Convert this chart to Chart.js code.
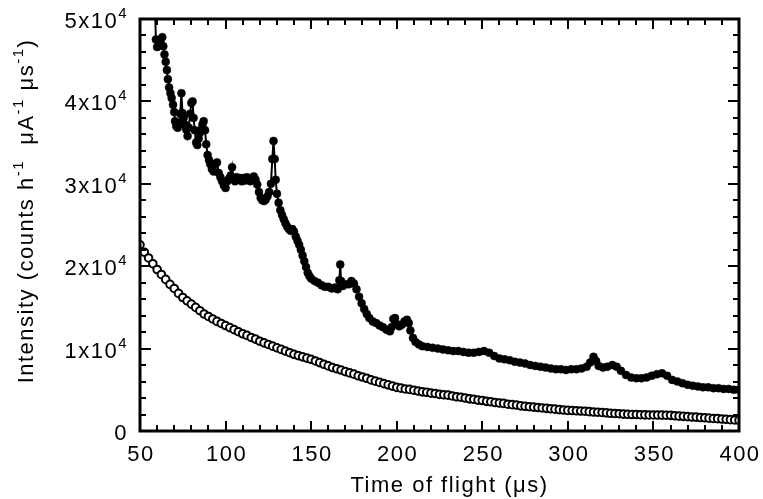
<!DOCTYPE html>
<html>
<head>
<meta charset="utf-8">
<script src="https://cdn.jsdelivr.net/npm/chart.js@4/dist/chart.umd.min.js"></script>
<style>
  html,body{margin:0;padding:0;background:#fff}
  canvas{display:block}
</style>
</head>
<body>
<canvas id="tof" width="763" height="499"></canvas>
<script>
// ticks
const xTicks = [50,100,150,200,250,300,350,400];
const yTicks = [0,10000,20000,30000,40000,50000];
const yTickBase = ['0','1x10','2x10','3x10','4x10','5x10'];
const yTickExp  = ['','4','4','4','4','4'];

// sample (filled circles)
const tofA = [58.5,59.3,60.0,61.0,62.0,63.0,63.6,64.3,65.0,65.7,66.3,67.0,67.8,68.5,69.3,70.0,70.5,71.2,72.0,72.8,
  73.5,74.2,74.8,75.5,76.2,77.0,77.8,78.5,79.3,80.0,80.7,81.3,82.0,82.8,83.5,84.3,85.0,85.8,86.5,87.2,
  88.0,88.7,89.5,90.3,91.0,92.0,93.0,94.0,95.0,96.0,97.0,98.0,99.0,100.0,101.0,102.0,103.0,103.8,104.5,105.5,
  106.5,107.5,108.5,109.5,110.5,111.5,112.5,113.5,114.5,115.5,116.5,117.5,118.5,119.5,120.5,121.5,122.5,123.5,124.5,125.5,
  126.5,127.3,128.0,128.7,129.3,130.0,131.0,132.0,133.0,134.0,135.0,136.0,137.0,138.0,139.0,140.0,141.0,142.0,143.0,144.0,
  145.0,146.0,147.0,148.0,149.0,150.0,152.0,154.0,156.0,158.0,160.0,162.0,164.0,165.5,166.5,167.0,167.5,168.5,170.0,172.0,
  173.5,175.0,176.5,178.0,179.5,181.0,182.5,184.0,186.0,188.0,190.0,192.0,194.0,196.0,197.0,198.0,199.0,200.0,201.5,203.0,
  204.5,206.0,207.0,208.0,209.5,211.0,213.0,215.0,218.0,221.0,224.0,227.0,230.0,233.0,236.0,239.0,242.0,245.0,248.0,251.0,
  254.0,257.0,260.0,263.0,266.0,269.0,272.0,275.0,278.0,281.0,284.0,287.0,290.0,293.0,296.0,299.0,302.0,305.0,308.0,311.0,
  313.0,315.0,316.5,318.0,320.5,323.0,326.0,328.5,331.0,334.0,337.0,340.0,343.0,346.0,349.0,352.0,355.0,358.0,361.0,364.0,
  367.0,370.0,373.0,376.0,379.0,382.0,385.0,388.0,391.0,394.0,397.0,400.0];
const intA = [53000,47500,46600,46800,47400,47800,46700,45700,44800,43800,42700,41700,41000,40400,39600,38700,37600,37000,36800,37300,
  38500,41000,38600,38000,37200,36600,35800,36800,38500,39800,40000,38000,36500,35000,34700,35500,36200,36600,37200,37600,
  36500,34800,33500,32900,32400,31800,31500,32400,32600,31300,30800,30300,29800,29500,30300,30600,31000,32000,30600,30300,
  30800,30500,30700,30300,30700,30400,30800,30500,30300,30600,30900,30500,29900,29000,28300,28000,27900,28100,28500,29000,
  30000,33000,35200,33000,30500,28800,27700,26800,26200,25700,25200,24800,24500,24300,24500,24200,23600,23100,22600,22000,
  21300,20600,19900,19200,18800,18500,18200,18000,17700,17500,17500,17300,17400,17200,18300,20200,18200,17600,17800,17800,
  18200,17900,17200,16300,15500,14800,14200,13700,13300,13100,12800,12600,12300,12100,12600,13600,13700,13000,12700,12900,
  13300,13500,13100,12200,11300,10800,10500,10300,10200,10100,10000,9900,9800,9700,9700,9600,9500,9500,9600,9700,
  9500,9100,8800,8700,8600,8400,8300,8200,8000,7900,7800,7700,7600,7500,7500,7400,7500,7500,7600,7800,
  8300,9000,8500,7900,7700,7800,8000,7800,7300,6800,6500,6400,6400,6500,6700,6900,7000,6700,6200,6000,
  5800,5600,5500,5400,5300,5300,5200,5200,5100,5100,5000,5000];

// background (open circles)
const tofB = [50,52.5,55,57.5,60,62.5,65,67.5,70,72.5,75,77.5,80,82.5,85,87.5,90,92.5,95,97.5,
  100,102.5,105,107.5,110,112.5,115,117.5,120,122.5,125,127.5,130,132.5,135,137.5,140,142.5,145,147.5,
  150,152.5,155,157.5,160,162.5,165,167.5,170,172.5,175,177.5,180,182.5,185,187.5,190,192.5,195,197.5,
  200,202.5,205,207.5,210,212.5,215,217.5,220,222.5,225,227.5,230,232.5,235,237.5,240,242.5,245,247.5,
  250,252.5,255,257.5,260,262.5,265,267.5,270,272.5,275,277.5,280,282.5,285,287.5,290,292.5,295,297.5,
  300,302.5,305,307.5,310,312.5,315,317.5,320,322.5,325,327.5,330,332.5,335,337.5,340,342.5,345,347.5,
  350,352.5,355,357.5,360,362.5,365,367.5,370,372.5,375,377.5,380,382.5,385,387.5,390,392.5,395,397.5,400];
const intB = [22600,21700,21000,20300,19600,19000,18400,17800,17300,16700,16200,15800,15400,15000,14600,14200,13900,13600,13300,13050,
  12800,12550,12300,12050,11800,11600,11350,11150,10900,10700,10500,10300,10100,9900,9700,9500,9300,9150,9000,8850,
  8700,8500,8300,8100,7900,7700,7550,7400,7200,7050,6900,6700,6550,6400,6200,6050,5900,5750,5600,5450,
  5300,5200,5100,5050,4950,4850,4750,4700,4600,4550,4450,4400,4350,4250,4150,4100,4000,3900,3850,3750,
  3700,3600,3550,3450,3400,3350,3250,3200,3150,3050,3000,2950,2900,2850,2800,2750,2700,2650,2600,2550,
  2500,2480,2450,2420,2400,2350,2300,2280,2250,2200,2150,2130,2100,2050,2030,2000,2000,1980,1960,1950,
  1950,1940,1930,1920,1900,1850,1800,1780,1750,1700,1680,1640,1600,1560,1520,1500,1450,1420,1380,1340,1300];

const FONT = '"Liberation Sans", Arial, Helvetica, sans-serif';
const BIG = '22px ' + FONT, SMALL = '15px ' + FONT;

function pts(xs, ys){ return xs.map((x,i)=>({x:x, y:ys[i]})); }

// width of a run of [text, isSuperscript] pieces
function runWidth(ctx, parts){
  let w = 0;
  parts.forEach(p=>{ ctx.font = p[1] ? SMALL : BIG; w += ctx.measureText(p[0]).width; });
  return w;
}
function drawRun(ctx, parts, x, y){
  parts.forEach(p=>{
    ctx.font = p[1] ? SMALL : BIG;
    ctx.fillText(p[0], x, p[1] ? y-10 : y);
    x += ctx.measureText(p[0]).width;
  });
}

// frame, inward ticks, labels with exponents, axis titles
const decor = {
  id:'decor',
  afterDraw(chart){
    const ctx = chart.ctx, a = chart.chartArea;
    const xs = chart.scales.x, ys = chart.scales.y;
    ctx.save();
    ctx.strokeStyle = '#000';
    ctx.lineWidth = 2;
    ctx.beginPath();
    for(let v=50; v<=400; v+=10){
      const px = Math.round(xs.getPixelForValue(v));
      const L = (v%50===0) ? 10 : 6;
      ctx.moveTo(px,a.bottom); ctx.lineTo(px,a.bottom-L);
      ctx.moveTo(px,a.top); ctx.lineTo(px,a.top+L);
    }
    for(let v=0; v<=50000; v+=2000){
      const py = Math.round(ys.getPixelForValue(v));
      const L = (v%10000===0) ? 11 : 6;
      ctx.moveTo(a.left,py); ctx.lineTo(a.left+L,py);
      ctx.moveTo(a.right,py); ctx.lineTo(a.right-L,py);
    }
    ctx.stroke();
    ctx.lineWidth = 3;
    ctx.strokeRect(a.left, a.top, a.right-a.left, a.bottom-a.top);

    ctx.fillStyle = '#000';
    ctx.letterSpacing = '1.5px';
    ctx.textBaseline = 'alphabetic';
    ctx.textAlign = 'left';

    // y tick labels
    yTicks.forEach((v,i)=>{
      const py = ys.getPixelForValue(v);
      const parts = yTickExp[i] ? [[yTickBase[i],0],[yTickExp[i],1]] : [[yTickBase[i],0]];
      const w = runWidth(ctx, parts);
      drawRun(ctx, parts, a.left - 12 - w, py + 9);
    });

    // x tick labels
    xTicks.forEach(v=>{
      const px = xs.getPixelForValue(v);
      ctx.font = BIG;
      const w = ctx.measureText(String(v)).width;
      drawRun(ctx, [[String(v),0]], px - w/2 + 1, a.bottom + 30);
    });

    // x title
    const xt = [['Time of flight (\u03bcs)',0]];
    drawRun(ctx, xt, (a.left+a.right)/2 + 10 - runWidth(ctx, xt)/2, a.bottom + 61);

    // y title
    const yt = [['Intensity (counts h',0],['-1',1],['  \u03bcA',0],['-1',1],[' \u03bcs',0],['-1',1],[')',0]];
    ctx.save();
    ctx.translate(33, (a.top+a.bottom)/2 - 14);
    ctx.rotate(-Math.PI/2);
    drawRun(ctx, yt, -runWidth(ctx, yt)/2, 0);
    ctx.restore();
    ctx.restore();
  }
};

new Chart(document.getElementById('tof'), {
  type:'scatter',
  data:{
    datasets:[
      {label:'sample', data:pts(tofA,intA), showLine:true, borderColor:'#000', borderWidth:2,
       pointRadius:4, pointBackgroundColor:'#000', pointBorderColor:'#000', pointBorderWidth:0.5},
      {label:'background', data:pts(tofB,intB), showLine:false,
       pointRadius:3.8, pointBackgroundColor:'#fff', pointBorderColor:'#000', pointBorderWidth:2}
    ]
  },
  options:{
    responsive:false, animation:false, devicePixelRatio:1,
    layout:{padding:{top:19,right:24,left:0,bottom:0}},
    plugins:{legend:{display:false}, tooltip:{enabled:false}},
    scales:{
      x:{type:'linear', min:50, max:400,
         afterBuildTicks(s){ s.ticks = xTicks.map(v=>({value:v})); },
         afterFit(s){ s.height = 68; },
         grid:{display:false, drawTicks:false}, border:{display:false},
         ticks:{display:false}},
      y:{type:'linear', min:0, max:50000,
         afterBuildTicks(s){ s.ticks = yTicks.map(v=>({value:v})); },
         afterFit(s){ s.width = 140; },
         grid:{display:false, drawTicks:false}, border:{display:false},
         ticks:{display:false}}
    }
  },
  plugins:[decor]
});
</script>
</body>
</html>
